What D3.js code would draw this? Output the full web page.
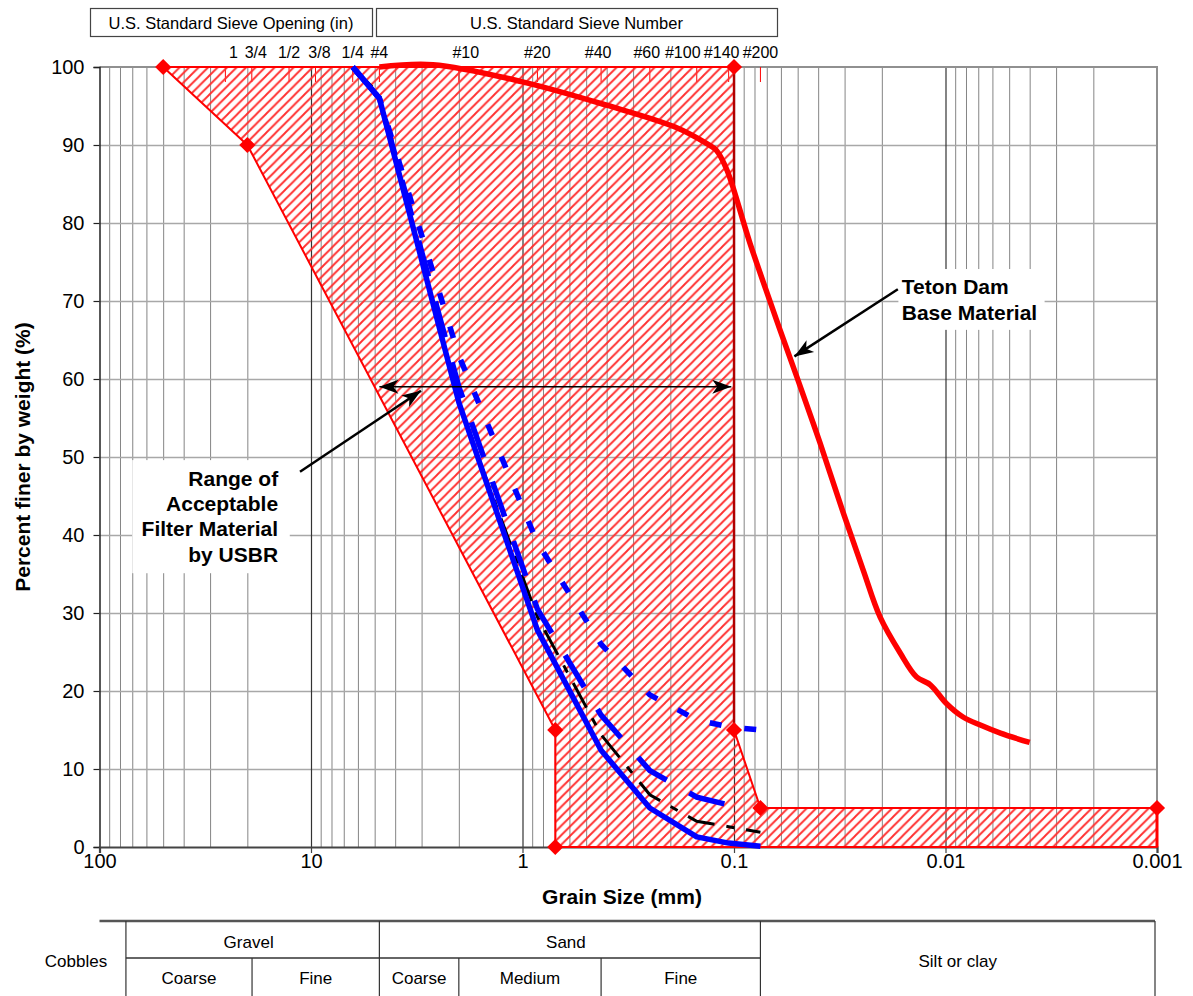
<!DOCTYPE html>
<html><head><meta charset="utf-8">
<script src="https://cdn.jsdelivr.net/npm/d3@7/dist/d3.min.js"></script>
<style>
body{margin:0;background:#fff;}
svg{display:block;font-family:"Liberation Sans",Arial,sans-serif;}
</style>
</head><body>
<svg id="c" width="1193" height="996"></svg>
<script>
// ---------------- DATA ----------------
const xTicks = [100, 10, 1, 0.1, 0.01, 0.001];
const xTickLabels = ["100", "10", "1", "0.1", "0.01", "0.001"];
const yTicks = [0, 10, 20, 30, 40, 50, 60, 70, 80, 90, 100];

const sieveSizes = [25.4, 19.05, 12.7, 9.525, 6.35, 4.75, 2.0, 0.85, 0.425, 0.25, 0.15, 0.106, 0.075];
const sieveLabels = ["1", "3/4", "1/2", "3/8", "1/4", "#4", "#10", "#20", "#40", "#60", "#100", "#140", "#200"];

// USBR acceptable filter range boundaries (grain size mm, percent finer)
const rangeCoarseSize = [50, 20, 0.7, 0.7];
const rangeCoarsePct  = [100, 90, 15, 0];
const rangeFineSize   = [0.1, 0.1, 0.075, 0.001];
const rangeFinePct    = [100, 15, 5, 5];

// Teton Dam base material
const tetonSize = [4.75, 2.65, 1.0, 0.4, 0.19, 0.135, 0.121, 0.108, 0.084, 0.0606, 0.0505, 0.0392, 0.0304, 0.0245, 0.0204, 0.0164, 0.0137, 0.0118, 0.0099, 0.0083, 0.0068, 0.0055, 0.004];
const tetonPct  = [100, 100.3, 98.1, 95.1, 92.3, 90.2, 89.3, 86.8, 77.4, 66.3, 60.3, 51.8, 42.8, 35.5, 29.5, 24.9, 21.8, 20.8, 18.4, 16.7, 15.6, 14.6, 13.4];

// Filter gradations at sieve sizes
const gradSize      = [6.35, 4.75, 2.0, 0.85, 0.425, 0.25, 0.15, 0.106, 0.075];
const filterSolid   = [100, 96, 57, 27.8, 12.4, 5.0, 1.3, 0.5, 0.1];
const filterLong    = [100, 96, 59, 30.5, 16.9, 9.8, 6.4, 5.4];
const filterShort   = [100, 96, 63, 39, 26, 19.5, 16.3, 15.4, 15.0];
const filterDashDot = [100, 96.5, 56.7, 29.5, 14.4, 6.7, 3.3, 2.6, 1.9];

// Soil classification bands (mm)
const groupNames  = ["Gravel", "Sand"];
const groupBounds = [[75, 4.75], [4.75, 0.075]];
const subNames    = ["Coarse", "Fine", "Coarse", "Medium", "Fine"];
const subBounds   = [[75, 19], [19, 4.75], [4.75, 2.0], [2.0, 0.425], [0.425, 0.075]];

// ---------------- CHART ----------------
const svg = d3.select("#c");
const X0 = 99.5, X1 = 1157, Y0 = 847, Y1 = 67;
const x = d3.scaleLog().domain([100, 0.001]).range([X0, X1]);
const y = d3.scaleLinear().domain([0, 100]).range([Y0, Y1]);
const FT = "Liberation Sans, Arial, sans-serif";

const defs = svg.append("defs");
const pat = defs.append("pattern").attr("id", "hatch").attr("patternUnits", "userSpaceOnUse")
  .attr("width", 9.5).attr("height", 9.5);
pat.append("path").attr("d", "M-2,2 L2,-2 M0,9.5 L9.5,0 M7.5,11.5 L11.5,7.5")
  .attr("stroke", "#ff3030").attr("stroke-width", 1.9).attr("fill", "none");
defs.append("marker").attr("id", "ah").attr("viewBox", "-21 -8 23 16")
  .attr("refX", 0).attr("refY", 0).attr("markerWidth", 23).attr("markerHeight", 16)
  .attr("markerUnits", "userSpaceOnUse").attr("orient", "auto-start-reverse")
  .append("path").attr("d", "M0,0 L-19,-7 L-14,0 L-19,7 Z").attr("fill", "#000");

// Grid: minor/major verticals
const minorVals = [], majorVals = [];
[0.001, 0.01, 0.1, 1, 10].forEach(d => { for (let k = 1; k <= 9; k++) { const v = +(d * k).toPrecision(6); (k === 1 ? majorVals : minorVals).push(v); } });
const gMinor = svg.append("g").attr("transform", `translate(0,${Y0})`)
  .call(d3.axisBottom(x).tickValues(minorVals).tickSize(-(Y0 - Y1)).tickFormat(""));
gMinor.select(".domain").remove();
gMinor.selectAll("line").attr("stroke", "#858585").attr("stroke-width", 1);

const gH = svg.append("g").attr("transform", `translate(${X0},0)`)
  .call(d3.axisLeft(y).tickValues(yTicks.filter(v => v > 0 && v < 100)).tickSize(-(X1 - X0)).tickFormat(""));
gH.select(".domain").remove();
gH.selectAll("line").attr("stroke", "#a8a8a8").attr("stroke-width", 1.6);

const gMaj = svg.append("g").attr("transform", `translate(0,${Y0})`)
  .call(d3.axisBottom(x).tickValues(majorVals.filter(v => v > 0.001)).tickSize(-(Y0 - Y1)).tickFormat(""));
gMaj.select(".domain").remove();
gMaj.selectAll("line").attr("stroke", "#333").attr("stroke-width", 1.2);

// plot border (top/right)
svg.append("path").attr("d", `M${X0},${Y1} H${X1} V${Y0}`).attr("fill", "none")
  .attr("stroke", "#909090").attr("stroke-width", 2);

// White label boxes covering the grid
svg.append("rect").attr("x", x(70)).attr("y", y(49.6)).attr("width", x(12.6) - x(70)).attr("height", y(35.1) - y(49.6)).attr("fill", "#fff");
svg.append("rect").attr("x", x(0.0167)).attr("y", y(74.1)).attr("width", x(0.0034) - x(0.0167)).attr("height", y(66.3) - y(74.1)).attr("fill", "#fff");

// Axes
const gy = svg.append("g").attr("transform", `translate(${X0},0)`)
  .call(d3.axisLeft(y).tickValues(yTicks).tickSize(6).tickPadding(9).tickFormat(d3.format("d")));
gy.select(".domain").attr("stroke", "#222").attr("stroke-width", 1.5);
gy.selectAll("line").attr("stroke", "#222").attr("stroke-width", 1.2);
gy.selectAll("text").attr("font-size", 20).attr("fill", "#000").attr("font-family", FT);

const gx = svg.append("g").attr("transform", `translate(0,${Y0})`)
  .call(d3.axisBottom(x).tickValues(xTicks).tickSize(6).tickPadding(1).tickFormat((d, i) => xTickLabels[i]));
gx.select(".domain").attr("stroke", "#444").attr("stroke-width", 2.2);
gx.selectAll("line").attr("stroke", "#444").attr("stroke-width", 1.2);
gx.selectAll("text").attr("font-size", 20).attr("fill", "#000").attr("font-family", FT);

// Sieve tick marks at top
svg.append("g").selectAll("line").data(sieveSizes).join("line")
  .attr("x1", d => x(d)).attr("x2", d => x(d)).attr("y1", Y1).attr("y2", Y1 + 15)
  .attr("stroke", "#ff0000").attr("stroke-width", 1);
const nudge = [8, 4, 0, 4, 0, 0, 7, 0, -3, -3, -14, -7, 0];
svg.append("g").selectAll("text").data(sieveLabels).join("text")
  .attr("x", (d, i) => x(sieveSizes[i]) + nudge[i]).attr("y", 58)
  .attr("text-anchor", "middle").attr("font-size", 16).text(d => d);

// Header boxes
const heads = [{t: "U.S. Standard Sieve Opening (in)", x0: 90, x1: 372}, {t: "U.S. Standard Sieve Number", x0: 376, x1: 777}];
heads.forEach(h => {
  svg.append("rect").attr("x", h.x0 + 0.5).attr("y", 8.5).attr("width", h.x1 - h.x0).attr("height", 28)
    .attr("fill", "#fff").attr("stroke", "#444").attr("stroke-width", 1.2);
  svg.append("text").attr("x", (h.x0 + h.x1) / 2).attr("y", 28.5).attr("text-anchor", "middle")
    .attr("font-size", 16.5).text(h.t);
});

// Range polygon (hatched)
const rangePoly = rangeCoarseSize.map((s, i) => [s, rangeCoarsePct[i]])
  .concat([[0.001, 0]])
  .concat(rangeFineSize.map((s, i) => [s, rangeFinePct[i]]).reverse());
const lineGen = d3.line().x(d => x(d[0])).y(d => y(d[1]));
svg.append("path").attr("d", lineGen(rangePoly) + "Z").attr("fill", "url(#hatch)")
  .attr("stroke", "#ff0000").attr("stroke-width", 2).attr("stroke-linejoin", "round");
// right boundary (darker)
svg.append("path").attr("d", lineGen([[rangeFineSize[0], rangeFinePct[0]], [rangeFineSize[1], rangeFinePct[1]]]))
  .attr("stroke", "#b00000").attr("stroke-width", 2.4).attr("fill", "none");
svg.append("path").attr("d", lineGen([[0.001, 0], [0.001, 5]]))
  .attr("stroke", "#ff0000").attr("stroke-width", 3).attr("fill", "none");

// Filter gradation lines
function series(sizes, pcts){ return pcts.map((p, i) => [sizes[i], p]); }
svg.append("path").attr("d", lineGen(series(gradSize, filterDashDot))).attr("fill", "none")
  .attr("stroke", "#000").attr("stroke-width", 3).attr("stroke-dasharray", "28,12,8,12");
svg.append("path").attr("d", lineGen(series(gradSize, filterShort))).attr("fill", "none")
  .attr("stroke", "#0000ff").attr("stroke-width", 5.5).attr("stroke-dasharray", "12,23");
svg.append("path").attr("d", lineGen(series(gradSize, filterLong))).attr("fill", "none")
  .attr("stroke", "#0000ff").attr("stroke-width", 5.5).attr("stroke-dasharray", "37,26");
svg.append("path").attr("d", lineGen(series(gradSize, filterSolid))).attr("fill", "none")
  .attr("stroke", "#0000ff").attr("stroke-width", 5.5).attr("stroke-linejoin", "round");

// Teton line
const tetonLine = d3.line().x(d => x(d[0])).y(d => y(d[1])).curve(d3.curveCatmullRom.alpha(0.5));
svg.append("path").attr("d", tetonLine(series(tetonSize, tetonPct))).attr("fill", "none")
  .attr("stroke", "#ff0000").attr("stroke-width", 5.5).attr("stroke-linecap", "butt");

// Diamonds
const diamonds = series(rangeCoarseSize, rangeCoarsePct).concat(series(rangeFineSize, rangeFinePct));
svg.append("g").selectAll("path").data(diamonds).join("path")
  .attr("d", d3.symbol().type(d3.symbolSquare).size(130))
  .attr("transform", d => `translate(${x(d[0])},${y(d[1])}) rotate(45)`)
  .attr("fill", "#ff0000");

// Annotations
svg.append("line").attr("x1", x(4.75)).attr("y1", y(59)).attr("x2", x(0.103)).attr("y2", y(59))
  .attr("stroke", "#000").attr("stroke-width", 1.5)
  .attr("marker-start", "url(#ah)").attr("marker-end", "url(#ah)");
svg.append("line").attr("x1", x(11.27)).attr("y1", y(48.1)).attr("x2", x(3.02)).attr("y2", y(58.5))
  .attr("stroke", "#000").attr("stroke-width", 2.5).attr("marker-end", "url(#ah)");
svg.append("line").attr("x1", x(0.0168)).attr("y1", y(71.5)).attr("x2", x(0.0518)).attr("y2", y(62.9))
  .attr("stroke", "#000").attr("stroke-width", 2.5).attr("marker-end", "url(#ah)");

const rangeLines = ["Range of", "Acceptable", "Filter Material", "by USBR"];
svg.append("g").selectAll("text").data(rangeLines).join("text")
  .attr("x", x(14.3)).attr("y", (d, i) => y(47.3) + i * 25.4 + 7.5)
  .attr("text-anchor", "end").attr("font-size", 21).attr("font-weight", "bold").text(d => d);
const tetonLines = ["Teton Dam", "Base Material"];
svg.append("g").selectAll("text").data(tetonLines).join("text")
  .attr("x", x(0.0161)).attr("y", (d, i) => y(71.8) + i * 25.5 + 7.5)
  .attr("text-anchor", "start").attr("font-size", 21).attr("font-weight", "bold").text(d => d);

// Axis titles
svg.append("text").attr("x", 622).attr("y", 904).attr("text-anchor", "middle")
  .attr("font-size", 21).attr("font-weight", "bold").text("Grain Size (mm)");
svg.append("text").attr("transform", `translate(30,${(Y0 + Y1) / 2}) rotate(-90)`)
  .attr("text-anchor", "middle").attr("font-size", 21).attr("font-weight", "bold")
  .text("Percent finer by weight (%)");

// Classification table
const T0 = 921, TM = 958, TB = 996, TR = 1155;
const tg = svg.append("g");
tg.append("line").attr("x1", X0).attr("x2", TR).attr("y1", T0).attr("y2", T0).attr("stroke", "#555").attr("stroke-width", 2.5);
tg.append("line").attr("x1", x(75)).attr("x2", x(0.075)).attr("y1", TM).attr("y2", TM).attr("stroke", "#666").attr("stroke-width", 2);
[75, 4.75, 0.075].forEach(v => tg.append("line").attr("x1", x(v)).attr("x2", x(v)).attr("y1", T0).attr("y2", TB).attr("stroke", "#333").attr("stroke-width", 1.2));
tg.append("line").attr("x1", TR).attr("x2", TR).attr("y1", T0).attr("y2", TB).attr("stroke", "#333").attr("stroke-width", 1.2);
[19, 2.0, 0.425].forEach(v => tg.append("line").attr("x1", x(v)).attr("x2", x(v)).attr("y1", TM).attr("y2", TB).attr("stroke", "#333").attr("stroke-width", 1.2));
groupNames.forEach((n, i) => tg.append("text").attr("x", (x(groupBounds[i][0]) + x(groupBounds[i][1])) / 2 - 4).attr("y", 948)
  .attr("text-anchor", "middle").attr("font-size", 17).text(n));
subNames.forEach((n, i) => tg.append("text").attr("x", (x(subBounds[i][0]) + x(subBounds[i][1])) / 2).attr("y", 984)
  .attr("text-anchor", "middle").attr("font-size", 17).text(n));
tg.append("text").attr("x", 76).attr("y", 967).attr("text-anchor", "middle").attr("font-size", 17).text("Cobbles");
tg.append("text").attr("x", (x(0.075) + TR) / 2).attr("y", 967).attr("text-anchor", "middle").attr("font-size", 17).text("Silt or clay");
</script>
</body></html>
